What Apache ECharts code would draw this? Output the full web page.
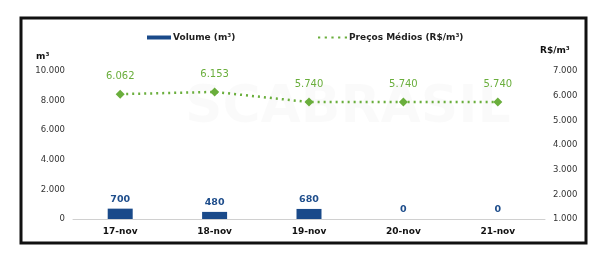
<!DOCTYPE html>
<html><head><meta charset="utf-8">
<script src="https://cdn.jsdelivr.net/npm/echarts@6/dist/echarts.min.js"></script>
<style>html,body{margin:0;padding:0;background:#fff}#c{width:606px;height:265px}</style>
</head><body><div id="c"></div>
<script>
const categories = ['17-nov','18-nov','19-nov','20-nov','21-nov'];
const volume = [700, 480, 680, 0, 0];
const prices = [6062, 6153, 5740, 5740, 5740];
const volumeName = 'Volume (m³)';
const priceName = 'Preços Médios (R$/m³)';

const fmt = v => String(Math.round(v)).replace(/\B(?=(\d{3})+(?!\d))/g, '.');
const F = 'DejaVu Sans';
const chart = echarts.init(document.getElementById('c'));
chart.setOption({
  animation: false,
  textStyle: { fontFamily: F },
  graphic: [
    { type: 'rect', shape: { x: 21, y: 18, width: 565, height: 225 }, style: { fill: 'none', stroke: '#111', lineWidth: 3 }, z: 0 },
    { type: 'text', left: 185, top: 82, style: { text: 'SCABRASIL', fill: 'rgba(0,0,0,0.02)', font: 'bold 52px "DejaVu Sans"' }, z: 0 }
  ],
  legend: [
    { left: 147, top: 33, padding: 0, icon: 'rect', itemWidth: 24, itemHeight: 4, itemGap: 4,
      data: [volumeName], textStyle: { fontFamily: F, fontSize: 9, fontWeight: 'bold', color: '#222', padding: [0, 0, 0, -3] } },
    { left: 318, top: 33, padding: 0, itemWidth: 29, itemHeight: 3, itemGap: 2,
      data: [{ name: priceName, icon: 'path://M0,0h2v2h-2z M6,0h2v2h-2z M12,0h2v2h-2z M18,0h2v2h-2z M24,0h2v2h-2z' }],
      textStyle: { fontFamily: F, fontSize: 9, fontWeight: 'bold', color: '#222', padding: [0, 0, 0, -3] } }
  ],
  grid: { left: 73, right: 61, top: 71, bottom: 46 },
  xAxis: {
    type: 'category', data: categories,
    axisLine: { lineStyle: { color: '#d0d0d0', width: 1 } },
    axisTick: { show: false },
    axisLabel: { fontFamily: F, fontSize: 9, fontWeight: 'bold', color: '#111', margin: 8 }
  },
  yAxis: [
    { type: 'value', min: 0, max: 10000, interval: 2000, name: 'm³',
      nameLocation: 'end', nameGap: 10, nameTextStyle: { fontFamily: F, fontSize: 9, fontWeight: 'bold', color: '#111', align: 'left', padding: [0, 0, 0, -37] },
      splitLine: { show: false }, axisLine: { show: false }, axisTick: { show: false },
      axisLabel: { fontFamily: F, fontSize: 8.5, color: '#333', margin: 8, formatter: fmt } },
    { type: 'value', min: 1000, max: 7000, interval: 1000, name: 'R$/m³',
      nameLocation: 'end', nameGap: 16, nameTextStyle: { fontFamily: F, fontSize: 9, fontWeight: 'bold', color: '#111', align: 'left', padding: [0, 0, 0, -5] },
      splitLine: { show: false }, axisLine: { show: false }, axisTick: { show: false },
      axisLabel: { fontFamily: F, fontSize: 8.5, color: '#333', margin: 8, formatter: fmt } }
  ],
  series: [
    { name: volumeName, type: 'bar', data: volume, barWidth: 25, yAxisIndex: 0,
      itemStyle: { color: '#1a4a8a' },
      label: { show: true, position: 'top', distance: 4, fontFamily: F, fontSize: 9.5, fontWeight: 'bold', color: '#1f4e8c', formatter: p => fmt(p.value) } },
    { name: priceName, type: 'line', data: prices, yAxisIndex: 1,
      symbol: 'diamond', symbolSize: 9,
      lineStyle: { color: '#6aae3c', width: 2.5, type: [2, 4] },
      itemStyle: { color: '#6aae3c' },
      label: { show: true, position: 'top', distance: 8, fontFamily: F, fontSize: 10, color: '#6aae3c', formatter: p => fmt(p.value) } }
  ]
});
</script></body></html>
